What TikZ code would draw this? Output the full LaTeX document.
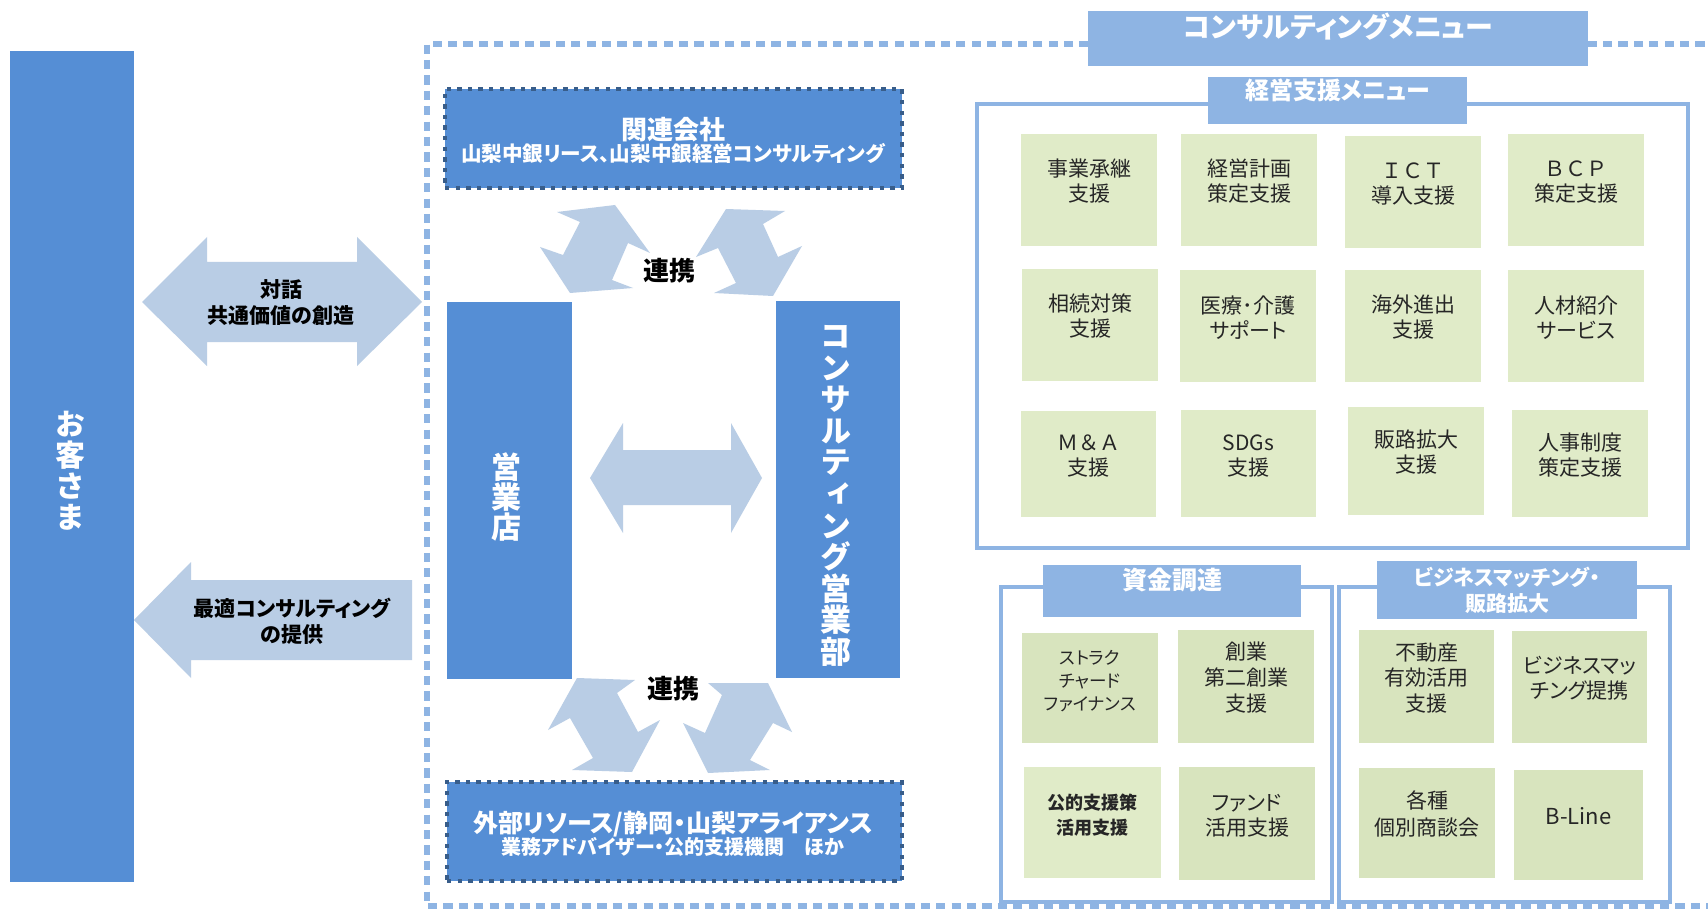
\documentclass[tikz,border=0pt]{standalone}
\usepackage{fontspec}
\setmainfont{Noto Sans CJK JP}
\newfontfamily\jp{Noto Sans CJK JP}
\newfontfamily\jpp{Noto Sans CJK JP}[RawFeature=+palt]
\newfontfamily\jpv{Noto Sans CJK JP}[RawFeature=+vert]
\usetikzlibrary{fit}
\definecolor{barblue}{HTML}{558ED5}
\definecolor{ttlblue}{HTML}{8EB4E3}
\definecolor{arwblue}{HTML}{B9CDE5}
\definecolor{grnA}{HTML}{E0EBC8}
\definecolor{grnB}{HTML}{D8E4BE}
\definecolor{navy}{HTML}{385D8A}
\definecolor{txt}{HTML}{262626}
\newcommand\fs[2]{\fontsize{#1}{#2}\selectfont}
\tikzset{
  fitbox/.style={inner sep=0pt, outer sep=0pt},
  bluebar/.style={fitbox, fill=barblue},
  dotbox/.style={fitbox, fill=barblue, draw=navy, line width=2pt, dash pattern=on 2.2pt off 3.1pt},
  ttlbox/.style={fitbox, fill=ttlblue, text=white, align=center},
  framebox/.style={fitbox, draw=ttlblue, line width=2pt},
  outerline/.style={draw=ttlblue, line width=3pt, dash pattern=on 4.6pt off 3.1pt},
  gbox/.style={fitbox, fill=grnA, text=txt, align=center, font=\jpp\fs{10.5}{12.5}},
  gboxB/.style={gbox, fill=grnB},
  blockarrow/.style={fill=arwblue},
  vtext/.style={text=white, align=center},
  blacklbl/.style={text=black, align=center, font=\jpp\bfseries\fs{10.5}{13}},
}
\newcommand\gb[7]{\node[#1, fit={(#3,#4) (#5,#6)}] (#2) {#7};}
\begin{document}
\begin{tikzpicture}[x=0.5pt, y=-0.5pt]
\path[use as bounding box, clip] (0,0) rectangle (1708,909);
\fill[white] (0,0) rectangle (1708,909);

% outer dashed frame
\draw[outerline] (1720,44) -- (427,44) -- (427,906) -- (1720,906);

% customer bar
\node[bluebar, fit={(10,51) (134,882)}] (cust) {};
\node[vtext, font=\jpv\bfseries\fs{15}{15.5}] (custt) at (70,471) {お\\客\\さ\\ま};

% big arrows left
\fill[blockarrow] (142,302) -- (207,237) -- (207,262) -- (357,262) -- (357,237) -- (422,302)
  -- (357,366) -- (357,342) -- (207,342) -- (207,366) -- cycle;
\node[blacklbl] (dialog) at (281,303) {対話\\共通価値の創造};

\fill[blockarrow] (134,620) -- (191,562) -- (191,580) -- (412,580) -- (412,660) -- (191,660)
  -- (191,678) -- cycle;
\node[blacklbl] (offer) at (292,621) {最適コンサルティング\\の提供};

% affiliated companies
\node[dotbox, fit={(445,89) (902,188)}] (kanren) {};
\node[text=white, align=center] (kanrent) at (673,140)
  {{\jpp\bfseries\fs{13}{15}関連会社}\\[-1pt]{\jpp\bfseries\fs{10.3}{14}山梨中銀リース、山梨中銀経営コンサルティング}};

% external resources
\node[dotbox, fit={(447,782) (902,881)}] (gaibu) {};
\node[text=white, align=center] (gaibut) at (673,834)
  {{\jpp\bfseries\fs{12.5}{14}外部リソース/静岡・山梨アライアンス}\\[-1pt]{\jpp\bfseries\fs{10}{13}業務アドバイザー・公的支援機関　ほか}};

% branch and consulting dept
\node[bluebar, fit={(447,302) (572,679)}] (branch) {};
\node[vtext, font=\jpv\bfseries\fs{15}{15}] (brancht) at (506,497) {営\\業\\店};
\node[bluebar, fit={(776,301) (900,678)}] (cdept) {};
\node[vtext, font=\jpv\bfseries\fs{15.5}{15.8}] (cdeptt) at (836,496) {コ\\ン\\サ\\ル\\テ\\ィ\\ン\\グ\\営\\業\\部};

% middle double arrow
\fill[blockarrow] (590,478) -- (623,423) -- (623,450) -- (731,450) -- (731,423) -- (762,478)
  -- (731,533) -- (731,505) -- (623,505) -- (623,533) -- cycle;

% upper link arrows
\fill[blockarrow] (615,205) -- (650,253) -- (628,243) -- (612,280) -- (633,288) -- (570,293)
  -- (540,247) -- (563,255) -- (580,222) -- (557,212) -- cycle;
\fill[blockarrow] (726,209) -- (785,211) -- (763,224) -- (778,257) -- (802,246) -- (773,296)
  -- (714,293) -- (736,283) -- (718,248) -- (696,257) -- cycle;
\node[blacklbl, font=\jpp\bfseries\fs{13}{15}] (renkei1) at (669,271) {連携};

% lower link arrows
\fill[blockarrow] (577,678) -- (635,680) -- (617,693) -- (638,732) -- (660,720) -- (632,772)
  -- (572,770) -- (593,758) -- (570,718) -- (548,730) -- cycle;
\fill[blockarrow] (768,683) -- (792,732) -- (773,723) -- (750,760) -- (770,770) -- (708,773)
  -- (683,723) -- (705,733) -- (722,695) -- (708,683) -- cycle;
\node[blacklbl, font=\jpp\bfseries\fs{13}{15}] (renkei2) at (673,689) {連携};

% consulting menu title
\node[ttlbox, font=\jpp\bfseries\fs{14}{16}, fit={(1088,11) (1588,66)}] (cmenu) {コンサルティングメニュー};

% management support frame
\node[framebox, fit={(977,104) (1688,548)}] (mframe) {};
\node[ttlbox, font=\jpp\bfseries\fs{12}{14}, fit={(1208,77) (1467,124)}] (mttl) {経営支援メニュー};

\gb{gbox}{m11}{1021}{134}{1157}{246}{事業承継\\支援}
\gb{gbox}{m12}{1181}{134}{1317}{246}{経営計画\\策定支援}
\gb{gbox}{m13}{1345}{136}{1481}{248}{{\jp ＩＣＴ}\\導入支援}
\gb{gbox}{m14}{1508}{134}{1644}{246}{{\jp ＢＣＰ}\\策定支援}
\gb{gbox}{m21}{1022}{269}{1158}{381}{相続対策\\支援}
\gb{gbox}{m22}{1180}{270}{1316}{382}{医療･介護\\サポート}
\gb{gbox}{m23}{1345}{270}{1481}{382}{海外進出\\支援}
\gb{gbox}{m24}{1508}{270}{1644}{382}{人材紹介\\サービス}
\gb{gbox}{m31}{1021}{411}{1156}{517}{{\jp Ｍ＆Ａ}\\支援}
\gb{gbox}{m32}{1181}{410}{1316}{517}{SDGs\\支援}
\gb{gbox}{m33}{1348}{407}{1484}{515}{販路拡大\\支援}
\gb{gbox}{m34}{1512}{410}{1648}{517}{人事制度\\策定支援}

% funding frame
\node[framebox, fit={(1001,587) (1332,902)}] (fframe) {};
\node[ttlbox, font=\jpp\bfseries\fs{12.5}{14}, fit={(1043,565) (1301,617)}] (fttl) {資金調達};
\gb{gboxB, font=\jpp\fs{8.8}{11.5}}{f11}{1022}{633}{1158}{743}{ストラク\\チャード\\ファイナンス}
\gb{gboxB, font=\jpp\fs{10.5}{13}}{f12}{1178}{630}{1314}{743}{創業\\第二創業\\支援}
\gb{gbox, font=\jpp\bfseries\fs{9}{12.5}}{f21}{1024}{767}{1161}{878}{公的支援策\\活用支援}
\gb{gboxB}{f22}{1179}{767}{1315}{880}{ファンド\\活用支援}

% business matching frame
\node[framebox, fit={(1339,587) (1670,902)}] (bframe) {};
\node[ttlbox, fit={(1377,561) (1637,619)}] (bttl) {};
\node[text=white, align=center, inner sep=0pt, font=\jpp\bfseries\fs{10.5}{13}] (bttlt) at (1507,590) {ビジネスマッチング・\\販路拡大};
\gb{gboxB, font=\jpp\fs{10.5}{12.8}}{b11}{1359}{630}{1494}{743}{不動産\\有効活用\\支援}
\gb{gboxB, font=\jpp\fs{10.5}{12.5}}{b12}{1512}{631}{1647}{743}{ビジネスマッ\\チング提携}
\gb{gboxB, font=\jpp\fs{10.5}{13.3}}{b21}{1359}{768}{1495}{878}{各種\\個別商談会}
\gb{gboxB, font=\jpp\fs{11}{13}}{b22}{1514}{770}{1643}{880}{B-Line}
\end{tikzpicture}
\end{document}
